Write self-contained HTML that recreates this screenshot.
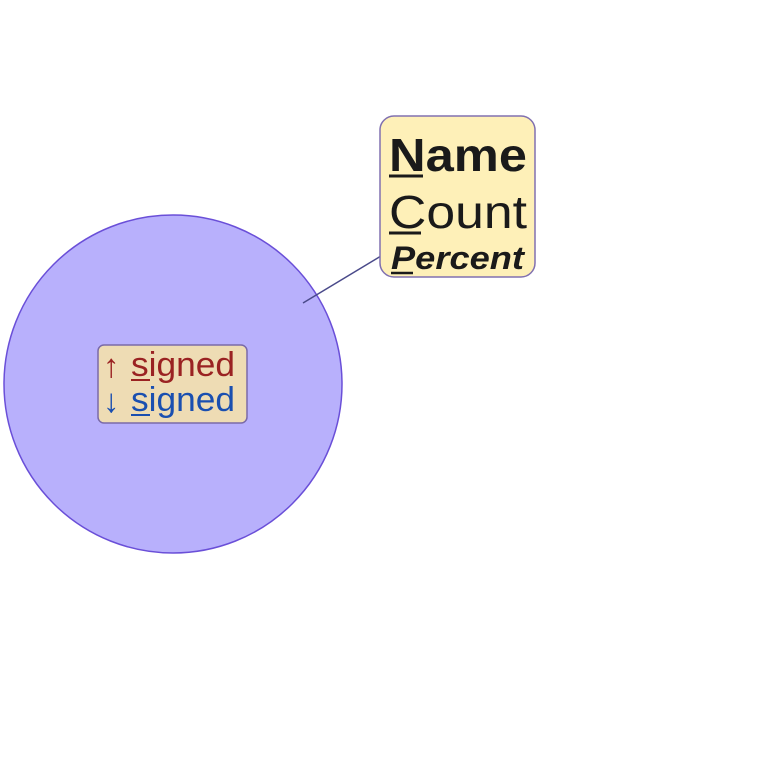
<!DOCTYPE html>
<html><head><style>body{margin:0;background:#fff}svg{display:block}</style></head>
<body>
<svg width="768" height="768" xmlns="http://www.w3.org/2000/svg" font-family="Liberation Sans, Arial, sans-serif">
<circle cx="173" cy="384" r="169" fill="#b8b0fc" stroke="#6a4fd8" stroke-width="1.5"/>
<line x1="303" y1="303" x2="381" y2="256" stroke="#4a4a8a" stroke-width="1.5"/>
<rect x="380" y="116" width="155" height="161" rx="14" fill="#fef0b8" stroke="#8070b0" stroke-width="1.5"/>
<text x="389" y="171" font-size="46" font-weight="bold" fill="#1a1a1a" textLength="138" lengthAdjust="spacingAndGlyphs">Name</text>
<line x1="389" y1="176" x2="423" y2="176" stroke="#1a1a1a" stroke-width="3"/>
<text x="389" y="228" font-size="46" fill="#1a1a1a" textLength="138" lengthAdjust="spacingAndGlyphs">Count</text>
<line x1="389" y1="233" x2="421" y2="233" stroke="#1a1a1a" stroke-width="3"/>
<text x="391" y="269" font-size="32" font-weight="bold" font-style="italic" fill="#1a1a1a" textLength="133" lengthAdjust="spacingAndGlyphs">Percent</text>
<line x1="391" y1="273" x2="413" y2="273" stroke="#1a1a1a" stroke-width="2.5"/>
<rect x="98" y="345" width="149" height="78" rx="6" fill="#eedcb4" stroke="#7a6aa8" stroke-width="1.5"/>
<text x="103" y="377" font-size="33" fill="#9a2222">↑</text>
<text x="131" y="376" font-size="34" fill="#9a2222" textLength="104" lengthAdjust="spacingAndGlyphs">signed</text>
<line x1="131" y1="380" x2="150" y2="380" stroke="#9a2222" stroke-width="2"/>
<text x="103" y="412" font-size="33" fill="#1a4fb0">↓</text>
<text x="131" y="411" font-size="34" fill="#1a4fb0" textLength="104" lengthAdjust="spacingAndGlyphs">signed</text>
<line x1="131" y1="415" x2="150" y2="415" stroke="#1a4fb0" stroke-width="2"/>
</svg>
</body></html>
